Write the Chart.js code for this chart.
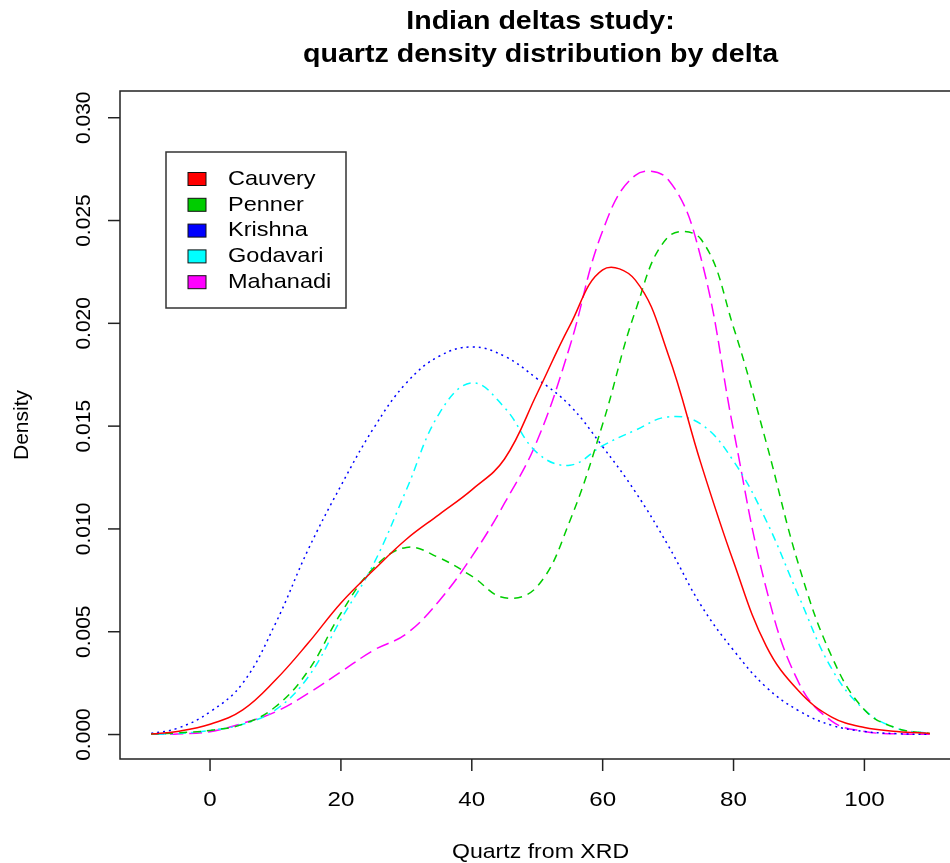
<!DOCTYPE html>
<html>
<head>
<meta charset="utf-8">
<script src="https://cdn.jsdelivr.net/npm/chart.js@4"></script>
<style>
  html, body { margin: 0; padding: 0; background: #fff; overflow: hidden; }
  #wrap { width: 950px; height: 863px; overflow: hidden; }
</style>
</head>
<body>
<div id="wrap"><canvas id="chart" width="980" height="863"></canvas></div>
<script>
// density curves, evaluated at quartz %
const quartz = [-9, -5, 0, 5, 10, 15, 20, 25, 30, 35, 40, 45, 50, 55, 60, 65, 70, 75, 80, 85, 90, 95, 100, 105, 110];

const cauvery  = [0.00003, 0.00015, 0.0005, 0.0012, 0.00265, 0.00445, 0.0064, 0.008, 0.0095, 0.0107, 0.0119, 0.0134, 0.0166, 0.0199, 0.0226, 0.0221, 0.0185, 0.0132, 0.0084, 0.0043, 0.0021, 0.00085, 0.00034, 0.00015, 0.00005];
const penner   = [0.00002, 0.00008, 0.0002, 0.0005, 0.00135, 0.0031, 0.0059, 0.0081, 0.0091, 0.0086, 0.0077, 0.00665, 0.0072, 0.0104, 0.0151, 0.0206, 0.0242, 0.0241, 0.0198, 0.0142, 0.0082, 0.0038, 0.0012, 0.0003, 0.00005];
const krishna  = [0.00005, 0.0003, 0.0011, 0.0025, 0.0054, 0.009, 0.0121, 0.0149, 0.0171, 0.0184, 0.01885, 0.0184, 0.0173, 0.016, 0.014, 0.0118, 0.0092, 0.0063, 0.0041, 0.0023, 0.00115, 0.00045, 0.00015, 0.00004, 0.00001];
const godavari = [0.00001, 0.00005, 0.0002, 0.0005, 0.0012, 0.0028, 0.0056, 0.0083, 0.0119, 0.0156, 0.0171, 0.0159, 0.0137, 0.0131, 0.01405, 0.0148, 0.01545, 0.0151, 0.0133, 0.0104, 0.0067, 0.0032, 0.0012, 0.0003, 0.00005];
const mahanadi = [0.00001, 0.00003, 0.00014, 0.00055, 0.0011, 0.002, 0.00305, 0.0041, 0.0049, 0.0065, 0.00865, 0.01125, 0.0143, 0.0189, 0.0245, 0.0272, 0.0270, 0.0232, 0.0148, 0.0071, 0.0025, 0.00065, 0.00015, 0.00003, 0.00001];

const deltas = ['Cauvery', 'Penner', 'Krishna', 'Godavari', 'Mahanadi'];
const xTicks = [0, 20, 40, 60, 80, 100];
const yTicks = [0, 0.005, 0.01, 0.015, 0.02, 0.025, 0.03];

const series = [cauvery, penner, krishna, godavari, mahanadi];
const colors = ['#ff0000', '#00cd00', '#0000ff', '#00ffff', '#ff00ff'];
const dashes = [[], [8, 6], [2, 4], [2, 5, 8, 5], [13, 6]];

const FONT = '"Liberation Sans", Arial, sans-serif';

// draw text, optionally rotated, stretched a bit horizontally like the picture
function txt(ctx, s, x, y, size, opts = {}) {
  ctx.save();
  ctx.translate(x, y);
  if (opts.rot) ctx.rotate(opts.rot);
  ctx.scale(opts.sx || 1, 1);
  ctx.font = (opts.bold ? 'bold ' : '') + size + 'px ' + FONT;
  ctx.fillStyle = '#000';
  ctx.textAlign = opts.align || 'center';
  ctx.textBaseline = 'middle';
  ctx.fillText(s, 0, 0);
  ctx.restore();
}

const baseFrame = {
  id: 'baseFrame',
  afterDraw(chart) {
    const { ctx, chartArea: a, scales: { x, y } } = chart;
    ctx.save();
    ctx.strokeStyle = '#222';
    ctx.lineWidth = 1.5;
    ctx.setLineDash([]);
    // box (right side runs off the picture)
    ctx.beginPath();
    ctx.moveTo(a.right + 20, a.top);
    ctx.lineTo(a.left, a.top);
    ctx.lineTo(a.left, a.bottom);
    ctx.lineTo(a.right + 20, a.bottom);
    ctx.stroke();

    // x axis ticks
    xTicks.forEach(v => {
      const px = x.getPixelForValue(v);
      ctx.beginPath();
      ctx.moveTo(px, a.bottom);
      ctx.lineTo(px, a.bottom + 12);
      ctx.stroke();
      txt(ctx, String(v), px, a.bottom + 41, 21, { sx: 1.15 });
    });

    // y axis ticks, labels turned like R
    yTicks.forEach(v => {
      const py = y.getPixelForValue(v);
      ctx.beginPath();
      ctx.moveTo(a.left - 12, py);
      ctx.lineTo(a.left, py);
      ctx.stroke();
      txt(ctx, v.toFixed(3), a.left - 36, py, 21, { rot: -Math.PI / 2 });
    });

    // titles
    const cx = (a.left + a.right) / 2;
    txt(ctx, 'Indian deltas study:', cx, 22, 26, { bold: true, sx: 1.1 });
    txt(ctx, 'quartz density distribution by delta', cx, 55, 26, { bold: true, sx: 1.1 });
    txt(ctx, 'Quartz from XRD', cx, 852, 21, { sx: 1.1 });
    txt(ctx, 'Density', 22, (a.top + a.bottom) / 2, 21, { rot: -Math.PI / 2 });

    // legend
    const lx = 166, ly = 152, lw = 180, lh = 156;
    ctx.fillStyle = '#fff';
    ctx.fillRect(lx, ly, lw, lh);
    ctx.strokeStyle = '#333';
    ctx.strokeRect(lx, ly, lw, lh);
    chart.data.datasets.forEach((ds, i) => {
      const ry = 179 + i * 25.8;
      ctx.fillStyle = ds.borderColor;
      ctx.fillRect(188, ry - 6.5, 18, 13);
      ctx.strokeStyle = '#111';
      ctx.lineWidth = 1;
      ctx.strokeRect(188, ry - 6.5, 18, 13);
      txt(ctx, ds.label, 228, ry, 21, { sx: 1.12, align: 'left' });
    });
    ctx.restore();
  }
};

new Chart(document.getElementById('chart'), {
  type: 'line',
  data: {
    datasets: deltas.map((name, i) => ({
      label: name,
      data: quartz.map((q, j) => ({ x: q, y: series[i][j] })),
      borderColor: colors[i],
      borderWidth: 1.5,
      borderDash: dashes[i],
      pointRadius: 0,
      tension: 0.4,
      fill: false
    }))
  },
  options: {
    responsive: false,
    animation: false,
    layout: { padding: { left: 120, top: 91, right: 19, bottom: 104 } },
    scales: {
      x: { type: 'linear', min: -13.76, max: 114.76, display: false },
      y: { min: -0.00119, max: 0.0313, display: false }
    },
    plugins: {
      legend: { display: false },
      tooltip: { enabled: false }
    }
  },
  plugins: [baseFrame]
});
</script>
</body>
</html>
